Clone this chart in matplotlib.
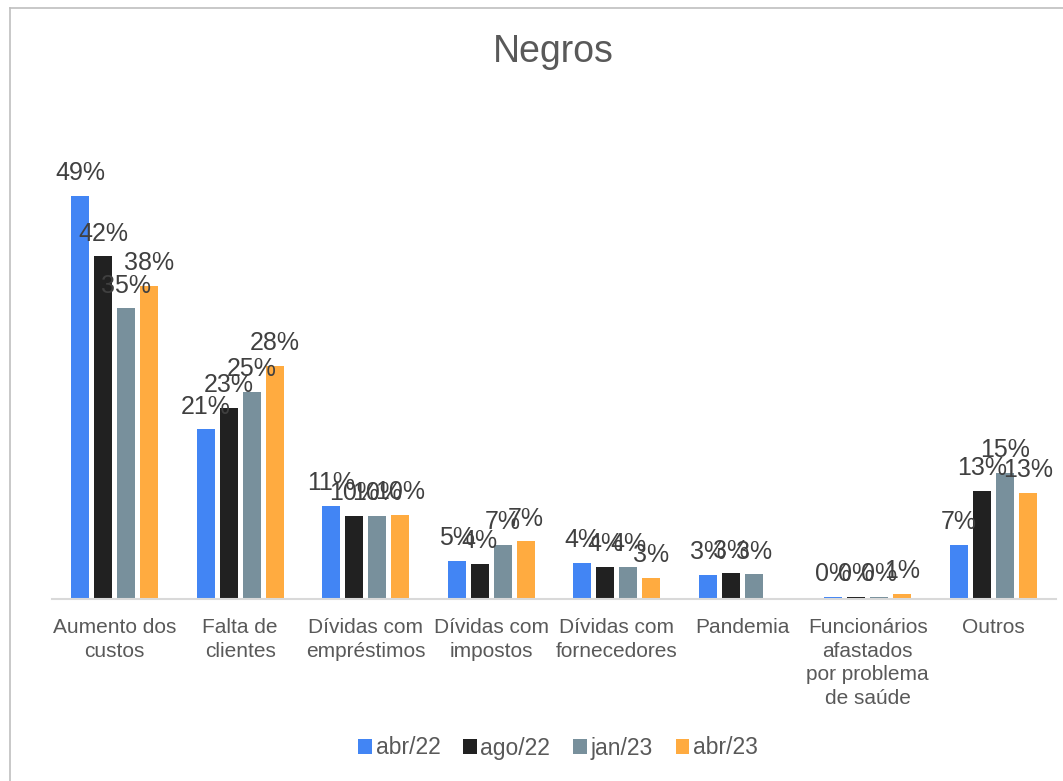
import matplotlib.pyplot as plt
import numpy as np
from matplotlib.lines import Line2D

plt.rcParams['font.family'] = ['Liberation Sans', 'DejaVu Sans']

categories = ['Aumento dos\ncustos', 'Falta de\nclientes', 'Dívidas com\nempréstimos',
              'Dívidas com\nimpostos', 'Dívidas com\nfornecedores', 'Pandemia',
              'Funcionários\nafastados\npor problema\nde saúde', 'Outros']
series = ['abr/22', 'ago/22', 'jan/23', 'abr/23']
abr22 = [49.0, 20.6, 11.3, 4.6, 4.4, 2.9, 0.3, 6.6]
ago22 = [41.6, 23.2, 10.1, 4.3, 3.9, 3.1, 0.3, 13.1]
jan23 = [35.3, 25.2, 10.1, 6.6, 3.9, 3.0, 0.3, 15.3]
abr23 = [38.0, 28.3, 10.2, 7.0, 2.6, np.nan, 0.6, 12.9]
colors = ['#4285F4', '#212121', '#78909C', '#FFAB40']

fig = plt.figure(figsize=(10.63, 7.81), dpi=100)
ax = fig.add_axes([52 / 1063, 1 - 599 / 781, 1004 / 1063, 494 / 781])

x = np.arange(len(categories))
step = 0.183
w = 0.145
for i, (name, vals) in enumerate(zip(series, [abr22, ago22, jan23, abr23])):
    pos = x + (i - 1.5) * step
    ax.bar(pos, vals, w, color=colors[i], linewidth=0, label=name)
    for px, v in zip(pos, vals):
        if np.isnan(v):
            continue
        ax.text(px, v + 1.3, f'{v:.0f}%', ha='center', va='bottom',
                fontsize=18, color='#404040')

ax.set_xlim(-0.5, len(categories) - 0.5)
ax.set_ylim(0, 60)
ax.set_yticks([])
ax.set_xticks(x)
ax.set_xticklabels(categories, fontsize=15, color='#595959', linespacing=1.3)
ax.tick_params(axis='x', length=0, pad=14)
for s in ['top', 'right', 'left']:
    ax.spines[s].set_visible(False)
ax.spines['bottom'].set_color('#D9D9D9')
ax.spines['bottom'].set_linewidth(1.5)

fig.text(553 / 1063, 1 - 52 / 781, 'Negros', ha='center', va='center',
         fontsize=27, color='#595959')

fig.legend(loc='center', bbox_to_anchor=(558 / 1063, 1 - 748 / 781), ncol=4,
           frameon=False, fontsize=16.5, handlelength=0.6, handleheight=0.6,
           handletextpad=0.15, columnspacing=1.0, labelcolor='#595959')

fig.add_artist(Line2D([10 / 1063, 10 / 1063], [0, 1 - 8 / 781], color='#BFBFBF', lw=1.2))
fig.add_artist(Line2D([10 / 1063, 1], [1 - 8 / 781, 1 - 8 / 781], color='#BFBFBF', lw=1.2))

fig.savefig('out.png', dpi=100)
